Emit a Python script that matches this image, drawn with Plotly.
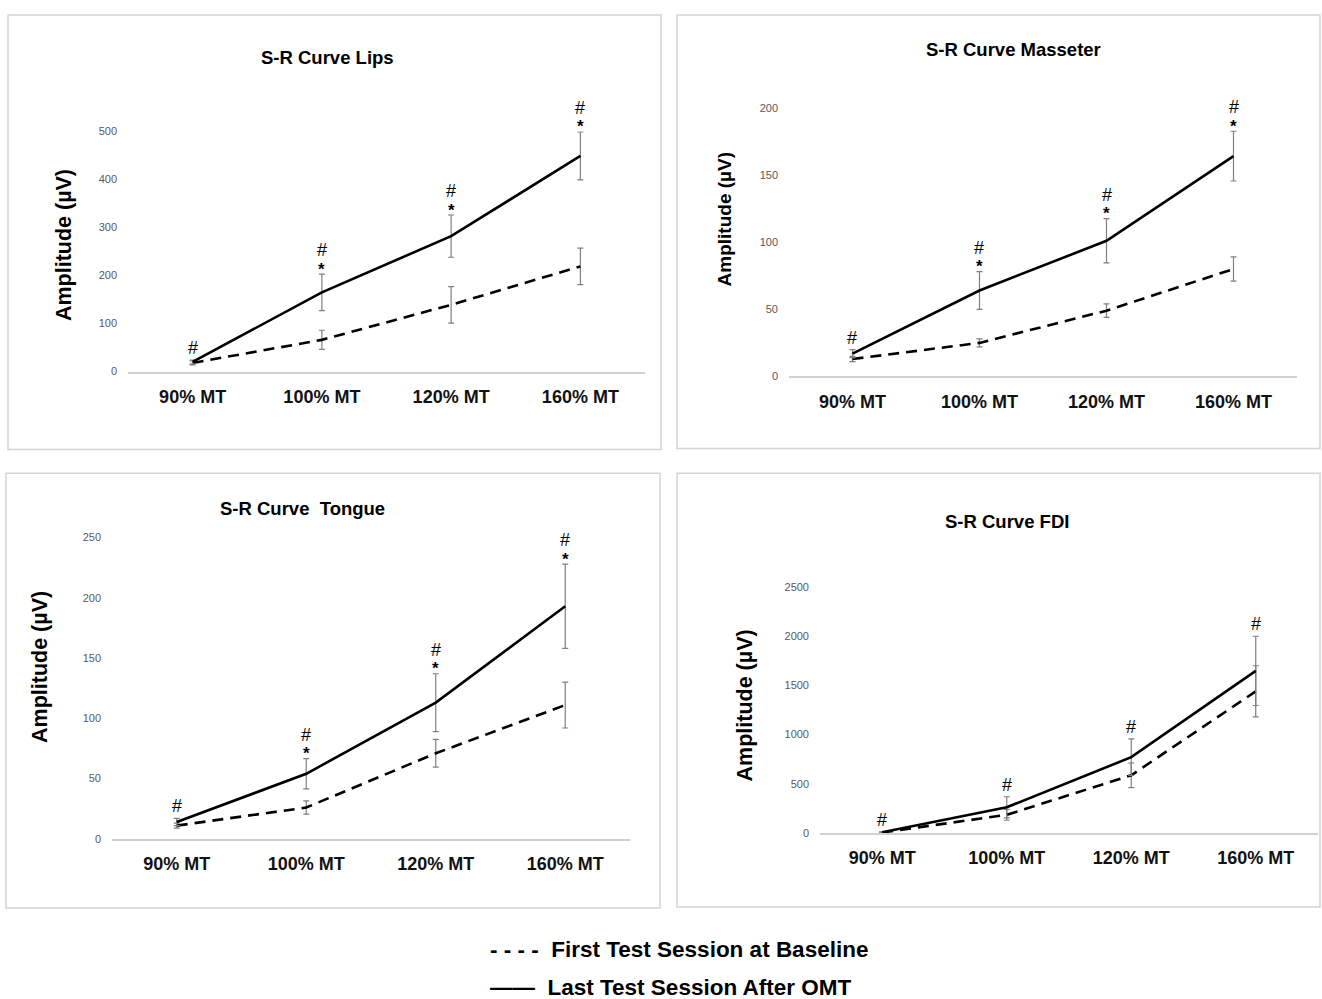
import plotly.graph_objects as go

# ---------------- data ----------------
categories = ["90% MT", "100% MT", "120% MT", "160% MT"]

lips_first = [18, 66, 139, 219]
lips_first_err = [4, 20, 38, 38]
lips_last = [20, 165, 282, 449]
lips_last_err = [4, 38, 44, 50]
lips_marks = ["#", "#*", "#*", "#*"]
lips_ticks = [0, 100, 200, 300, 400, 500]

masseter_first = [13, 25, 49, 80]
masseter_first_err = [2, 3, 5, 9]
masseter_last = [17, 64, 101, 164]
masseter_last_err = [3, 14, 16.5, 18.5]
masseter_marks = ["#", "#*", "#*", "#*"]
masseter_ticks = [0, 50, 100, 150, 200]

tongue_first = [11, 26, 71, 111]
tongue_first_err = [2, 5.5, 11.5, 19]
tongue_last = [14, 54, 113, 193]
tongue_last_err = [3, 12.5, 24, 35]
tongue_marks = ["#", "#*", "#*", "#*"]
tongue_ticks = [0, 50, 100, 150, 200, 250]

fdi_first = [5, 184, 586, 1439]
fdi_first_err = [3, 55, 125, 260]
fdi_last = [8, 261, 770, 1647]
fdi_last_err = [4, 107, 185, 352]
fdi_marks = ["#", "#", "#", "#"]
fdi_ticks = [0, 500, 1000, 1500, 2000, 2500]

titles = ["S-R Curve Lips", "S-R Curve Masseter", "S-R Curve  Tongue", "S-R Curve FDI"]
y_title = "Amplitude (µV)"
legend_first = "- - - -  First Test Session at Baseline"
legend_last = "——  Last Test Session After OMT"

# ---------------- layout helpers ----------------
W, H = 1322, 999
def px(x):
    return x / W
def py(y):
    return 1 - y / H

FONT = "Liberation Sans, Arial, sans-serif"

panels = [
    dict(first=lips_first, first_err=lips_first_err, last=lips_last, last_err=lips_last_err,
         marks=lips_marks, ticks=lips_ticks, ymax=500,
         area=(128, 645, 370, 127), box=(8, 661, 9, 449),
         title=titles[0], tpos=(327, 52), ytpos=(64, 242), ytsize=21.5),
    dict(first=masseter_first, first_err=masseter_first_err, last=masseter_last, last_err=masseter_last_err,
         marks=masseter_marks, ticks=masseter_ticks, ymax=200,
         area=(789, 1297, 375, 103), box=(677, 1320, 9, 448),
         title=titles[1], tpos=(1013, 44), ytpos=(724, 216), ytsize=19),
    dict(first=tongue_first, first_err=tongue_first_err, last=tongue_last, last_err=tongue_last_err,
         marks=tongue_marks, ticks=tongue_ticks, ymax=250,
         area=(112, 630, 843, 538), box=(6, 660, 473, 913),
         title=titles[2], tpos=(302, 509), ytpos=(40, 669), ytsize=21.5),
    dict(first=fdi_first, first_err=fdi_first_err, last=fdi_last, last_err=fdi_last_err,
         marks=fdi_marks, ticks=fdi_ticks, ymax=2500,
         area=(820, 1318, 837, 588), box=(677, 1320, 473, 912),
         title=titles[3], tpos=(1007, 522), ytpos=(745, 708), ytsize=21.5),
]

fig = go.Figure()
layout = dict(
    width=W, height=H,
    margin=dict(l=0, r=0, t=0, b=0),
    paper_bgcolor="white", plot_bgcolor="white",
    showlegend=False,
    font=dict(family=FONT, color="black"),
)
annotations = []
shapes = []

for i, p in enumerate(panels, start=1):
    xa = "x" if i == 1 else f"x{i}"
    ya = "y" if i == 1 else f"y{i}"
    xkey = "xaxis" if i == 1 else f"xaxis{i}"
    ykey = "yaxis" if i == 1 else f"yaxis{i}"
    x0, x1, yb, yt = p["area"]

    fig.add_trace(go.Scatter(
        x=categories, y=p["first"], mode="lines", xaxis=xa, yaxis=ya,
        line=dict(color="black", width=2.6, dash="11px,7px"),
        error_y=dict(type="data", array=p["first_err"], visible=True,
                     color="#7f7f7f", thickness=1.2, width=3),
        name="First Test Session at Baseline", cliponaxis=False,
    ))
    fig.add_trace(go.Scatter(
        x=categories, y=p["last"], mode="lines", xaxis=xa, yaxis=ya,
        line=dict(color="black", width=2.6),
        error_y=dict(type="data", array=p["last_err"], visible=True,
                     color="#7f7f7f", thickness=1.2, width=3),
        name="Last Test Session After OMT", cliponaxis=False,
    ))

    layout[xkey] = dict(
        domain=[px(x0), px(x1)], anchor=ya, type="category",
        range=[-0.5, 3.5], showgrid=False, zeroline=False,
        showline=True, linecolor="#d0d0d0", linewidth=1.5,
        ticks="", ticklabelstandoff=8,
        tickfont=dict(family=FONT, size=18, color="#111111", weight="bold"),
    )
    layout[ykey] = dict(
        domain=[py(yb), py(yt)], anchor=xa, range=[0, p["ymax"]],
        tickvals=p["ticks"], showgrid=False, zeroline=False, showline=False,
        ticks="", ticklabelstandoff=10,
        tickfont=dict(family=FONT, size=11, color="#595959"),
    )

    # significance marks
    for c, v, e, m in zip(categories, p["last"], p["last_err"], p["marks"]):
        top = v + e
        if "*" in m:
            annotations.append(dict(x=c, y=top, xref=xa, yref=ya, text="*",
                                    showarrow=False, yanchor="middle", yshift=5,
                                    font=dict(size=17, color="black", family=FONT, weight="bold")))
            annotations.append(dict(x=c, y=top, xref=xa, yref=ya, text="#",
                                    showarrow=False, yanchor="middle", yshift=24,
                                    font=dict(size=18, color="black", family=FONT)))
        else:
            annotations.append(dict(x=c, y=top, xref=xa, yref=ya, text="#",
                                    showarrow=False, yanchor="middle", yshift=12,
                                    font=dict(size=18, color="black", family=FONT)))

    # title
    annotations.append(dict(x=px(p["tpos"][0]), y=py(p["tpos"][1]), xref="paper", yref="paper",
                            text=p["title"], showarrow=False, xanchor="center", yanchor="middle",
                            font=dict(size=18.5, color="black", family=FONT, weight="bold")))
    # y-axis title
    annotations.append(dict(x=px(p["ytpos"][0]), y=py(p["ytpos"][1]), xref="paper", yref="paper",
                            text=y_title, showarrow=False, textangle=-90,
                            xanchor="center", yanchor="middle",
                            font=dict(size=p["ytsize"], color="black", family=FONT, weight="bold")))
    # panel border
    bx0, bx1, by0, by1 = p["box"]
    shapes.append(dict(type="rect", xref="paper", yref="paper",
                       x0=px(bx0), x1=px(bx1), y0=py(by1), y1=py(by0),
                       line=dict(color="#d4d4d4", width=1.5), fillcolor="rgba(0,0,0,0)",
                       layer="below"))

# bottom legend (text)
annotations.append(dict(x=px(488), y=py(955), xref="paper", yref="paper", text=legend_first,
                        showarrow=False, xanchor="left", yanchor="middle",
                        font=dict(size=22.5, color="black", family=FONT, weight="bold")))
annotations.append(dict(x=px(488), y=py(993), xref="paper", yref="paper", text=legend_last,
                        showarrow=False, xanchor="left", yanchor="middle",
                        font=dict(size=22.5, color="black", family=FONT, weight="bold")))

layout["annotations"] = annotations
layout["shapes"] = shapes
fig.update_layout(**layout)

fig.write_html("out.html", post_script="document.body.style.margin='0';",
               config={"displayModeBar": False})
